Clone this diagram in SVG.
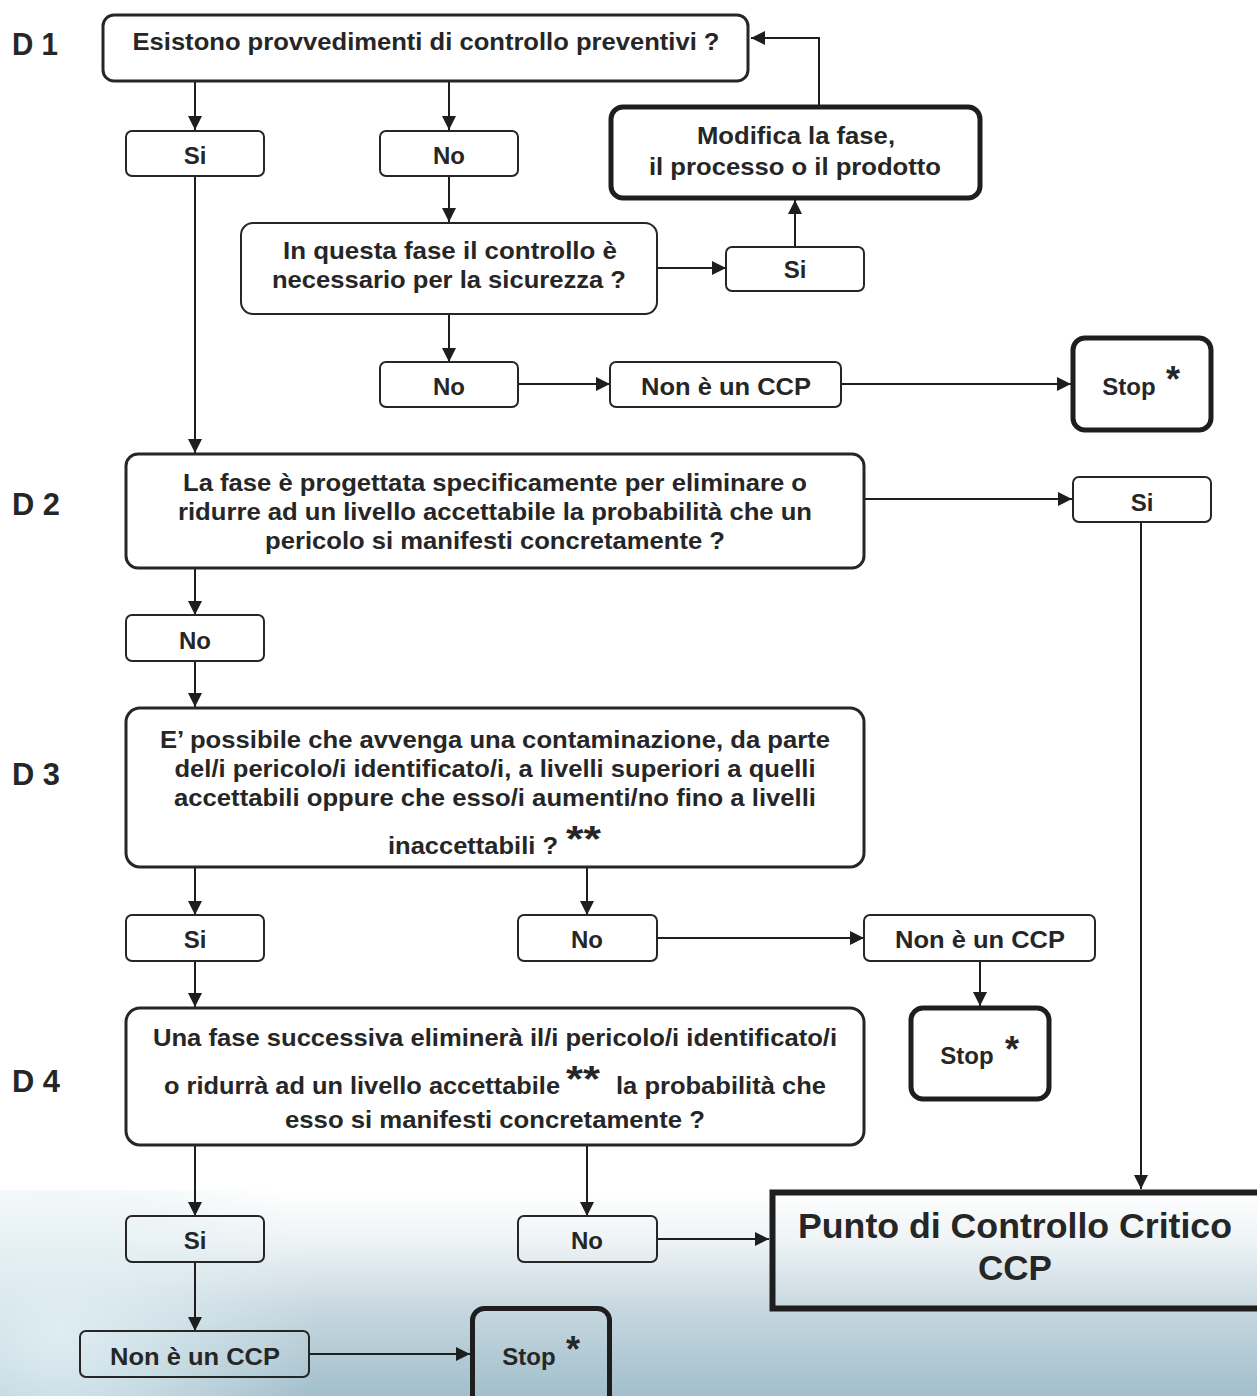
<svg xmlns="http://www.w3.org/2000/svg" width="1257" height="1396" viewBox="0 0 1257 1396">
<defs>
<linearGradient id="bg" x1="0" y1="1190" x2="0" y2="1396" gradientUnits="userSpaceOnUse">
<stop offset="0" stop-color="#ffffff"/>
<stop offset="0.25" stop-color="#eef3f5"/>
<stop offset="0.6" stop-color="#c4d6de"/>
<stop offset="1" stop-color="#a2bfcc"/>
</linearGradient>
<radialGradient id="hl" cx="60" cy="1330" r="260" gradientUnits="userSpaceOnUse">
<stop offset="0" stop-color="#e2f0f4" stop-opacity="0.9"/>
<stop offset="1" stop-color="#e2f0f4" stop-opacity="0"/>
</radialGradient>
<marker id="ah" viewBox="0 0 14 14" refX="14" refY="7" markerWidth="14" markerHeight="14" markerUnits="userSpaceOnUse" orient="auto">
<path d="M0,0 L14,7 L0,14 z" fill="#1e1e1e"/>
</marker>
<style>
.t{font-family:"Liberation Sans",Arial,Helvetica,sans-serif;font-weight:bold;fill:#262626;font-size:24px;text-anchor:middle}
.big{font-size:35px}
.d{font-family:"Liberation Sans",Arial,Helvetica,sans-serif;font-weight:bold;fill:#262626;font-size:32px}
.ast{font-family:"Liberation Sans",Arial,Helvetica,sans-serif;font-weight:bold;fill:#262626;font-size:36px}
.s{fill:none;stroke:#262626;stroke-width:2}
.m{fill:none;stroke:#262626;stroke-width:3}
.k{fill:none;stroke:#1e1e1e;stroke-width:5}
.c{fill:none;stroke:#1e1e1e;stroke-width:2;marker-end:url(#ah)}
</style>
</defs>
<rect x="0" y="0" width="1257" height="1396" fill="#ffffff"/>
<rect x="0" y="1190" width="1257" height="206" fill="url(#bg)"/>
<rect x="0" y="1190" width="1257" height="206" fill="url(#hl)"/>

<g id="labels">
<text class="d" x="12" y="55" textLength="46" lengthAdjust="spacingAndGlyphs">D 1</text>
<text class="d" x="12" y="515" textLength="48" lengthAdjust="spacingAndGlyphs">D 2</text>
<text class="d" x="12" y="785" textLength="48" lengthAdjust="spacingAndGlyphs">D 3</text>
<text class="d" x="12" y="1092" textLength="48" lengthAdjust="spacingAndGlyphs">D 4</text>
</g>

<g id="connectors">
<line class="c" x1="195" y1="82" x2="195" y2="130"/>
<line class="c" x1="449" y1="82" x2="449" y2="130"/>
<line class="c" x1="195" y1="176" x2="195" y2="453"/>
<line class="c" x1="449" y1="176" x2="449" y2="222"/>
<line class="c" x1="657" y1="268" x2="726" y2="268"/>
<line class="c" x1="795" y1="247" x2="795" y2="200"/>
<polyline class="c" points="819,105 819,38 751,38"/>
<line class="c" x1="449" y1="314" x2="449" y2="362"/>
<line class="c" x1="518" y1="384" x2="610" y2="384"/>
<line class="c" x1="841" y1="384" x2="1071" y2="384"/>
<line class="c" x1="864" y1="499" x2="1072" y2="499"/>
<line class="c" x1="1141" y1="522" x2="1141" y2="1189"/>
<line class="c" x1="195" y1="568" x2="195" y2="615"/>
<line class="c" x1="195" y1="661" x2="195" y2="707"/>
<line class="c" x1="195" y1="867" x2="195" y2="915"/>
<line class="c" x1="587" y1="867" x2="587" y2="915"/>
<line class="c" x1="657" y1="938" x2="864" y2="938"/>
<line class="c" x1="980" y1="961" x2="980" y2="1006"/>
<line class="c" x1="195" y1="961" x2="195" y2="1007"/>
<line class="c" x1="195" y1="1145" x2="195" y2="1216"/>
<line class="c" x1="587" y1="1145" x2="587" y2="1216"/>
<line class="c" x1="657" y1="1239" x2="769" y2="1239"/>
<line class="c" x1="195" y1="1262" x2="195" y2="1331"/>
<line class="c" x1="310" y1="1354" x2="470" y2="1354"/>
</g>

<g id="d1">
<rect class="m" x="103" y="15" width="645" height="66" rx="11"/>
<text class="t" x="426" y="50" textLength="587" lengthAdjust="spacingAndGlyphs">Esistono provvedimenti di controllo preventivi ?</text>
</g>
<g id="d1-si">
<rect class="s" x="126" y="131" width="138" height="45" rx="6"/>
<text class="t" x="195" y="164">Si</text>
</g>
<g id="d1-no">
<rect class="s" x="380" y="131" width="138" height="45" rx="6"/>
<text class="t" x="449" y="164">No</text>
</g>
<g id="modifica">
<rect class="k" x="611" y="107" width="369" height="91" rx="12"/>
<text class="t" x="796" y="144" textLength="198" lengthAdjust="spacingAndGlyphs">Modifica la fase,</text>
<text class="t" x="795" y="175" textLength="292" lengthAdjust="spacingAndGlyphs">il processo o il prodotto</text>
</g>
<g id="necessario">
<rect class="s" x="241" y="223" width="416" height="91" rx="12"/>
<text class="t" x="450" y="259" textLength="334" lengthAdjust="spacingAndGlyphs">In questa fase il controllo è</text>
<text class="t" x="449" y="288" textLength="354" lengthAdjust="spacingAndGlyphs">necessario per la sicurezza ?</text>
</g>
<g id="nec-si">
<rect class="s" x="726" y="247" width="138" height="44" rx="6"/>
<text class="t" x="795" y="278">Si</text>
</g>
<g id="nec-no">
<rect class="s" x="380" y="362" width="138" height="45" rx="6"/>
<text class="t" x="449" y="395">No</text>
</g>
<g id="nonccp1">
<rect class="s" x="610" y="362" width="231" height="45" rx="6"/>
<text class="t" x="726" y="395" textLength="170" lengthAdjust="spacingAndGlyphs">Non è un CCP</text>
</g>
<g id="stop1">
<rect class="k" x="1073" y="338" width="138" height="92" rx="12"/>
<text class="t" x="1129" y="395">Stop</text>
<text class="ast" x="1173" y="392" text-anchor="middle">*</text>
</g>

<g id="d2">
<rect class="m" x="126" y="454" width="738" height="114" rx="12"/>
<text class="t" x="495" y="491" textLength="624" lengthAdjust="spacingAndGlyphs">La fase è progettata specificamente per eliminare o</text>
<text class="t" x="495" y="520" textLength="634" lengthAdjust="spacingAndGlyphs">ridurre ad un livello accettabile la probabilità che un</text>
<text class="t" x="495" y="549" textLength="460" lengthAdjust="spacingAndGlyphs">pericolo si manifesti concretamente ?</text>
</g>
<g id="d2-si">
<rect class="s" x="1073" y="477" width="138" height="45" rx="6"/>
<text class="t" x="1142" y="511">Si</text>
</g>
<g id="d2-no">
<rect class="s" x="126" y="615" width="138" height="46" rx="6"/>
<text class="t" x="195" y="649">No</text>
</g>

<g id="d3">
<rect class="m" x="126" y="708" width="738" height="159" rx="14"/>
<text class="t" x="495" y="748" textLength="670" lengthAdjust="spacingAndGlyphs">E’ possibile che avvenga una contaminazione, da parte</text>
<text class="t" x="495" y="777" textLength="641" lengthAdjust="spacingAndGlyphs">del/i pericolo/i identificato/i, a livelli superiori a quelli</text>
<text class="t" x="495" y="806" textLength="642" lengthAdjust="spacingAndGlyphs">accettabili oppure che esso/i aumenti/no fino a livelli</text>
<text class="t" x="473" y="854" textLength="170" lengthAdjust="spacingAndGlyphs">inaccettabili ?</text>
<text class="ast" x="566" y="852" textLength="35" lengthAdjust="spacingAndGlyphs">**</text>
</g>
<g id="d3-si">
<rect class="s" x="126" y="915" width="138" height="46" rx="6"/>
<text class="t" x="195" y="948">Si</text>
</g>
<g id="d3-no">
<rect class="s" x="518" y="915" width="139" height="46" rx="6"/>
<text class="t" x="587" y="948">No</text>
</g>
<g id="nonccp2">
<rect class="s" x="864" y="915" width="231" height="46" rx="6"/>
<text class="t" x="980" y="948" textLength="170" lengthAdjust="spacingAndGlyphs">Non è un CCP</text>
</g>
<g id="stop2">
<rect class="k" x="911" y="1008" width="138" height="91" rx="12"/>
<text class="t" x="967" y="1064">Stop</text>
<text class="ast" x="1012" y="1062" text-anchor="middle">*</text>
</g>

<g id="d4">
<rect class="m" x="126" y="1008" width="738" height="137" rx="14"/>
<text class="t" x="495" y="1046" textLength="684" lengthAdjust="spacingAndGlyphs">Una fase successiva eliminerà il/i pericolo/i identificato/i</text>
<text class="t" x="362" y="1094" textLength="396" lengthAdjust="spacingAndGlyphs">o ridurrà ad un livello accettabile</text>
<text class="ast" x="566" y="1092" textLength="34" lengthAdjust="spacingAndGlyphs">**</text>
<text class="t" x="721" y="1094" textLength="210" lengthAdjust="spacingAndGlyphs">la probabilità che</text>
<text class="t" x="495" y="1128" textLength="420" lengthAdjust="spacingAndGlyphs">esso si manifesti concretamente ?</text>
</g>
<g id="d4-si">
<rect class="s" x="126" y="1216" width="138" height="46" rx="6"/>
<text class="t" x="195" y="1249">Si</text>
</g>
<g id="d4-no">
<rect class="s" x="518" y="1216" width="139" height="46" rx="6"/>
<text class="t" x="587" y="1249">No</text>
</g>
<g id="ccp">
<rect x="772.5" y="1192.5" width="490" height="116" fill="none" stroke="#1e1e1e" stroke-width="6"/>
<text class="t big" x="1015" y="1238" textLength="434" lengthAdjust="spacingAndGlyphs">Punto di Controllo Critico</text>
<text class="t big" x="1015" y="1280" textLength="74" lengthAdjust="spacingAndGlyphs">CCP</text>
</g>
<g id="nonccp3">
<rect class="s" x="80" y="1331" width="229" height="46" rx="6"/>
<text class="t" x="195" y="1365" textLength="170" lengthAdjust="spacingAndGlyphs">Non è un CCP</text>
</g>
<g id="stop3">
<rect class="k" x="472.5" y="1308.5" width="137" height="100" rx="12"/>
<text class="t" x="529" y="1365">Stop</text>
<text class="ast" x="573" y="1362" text-anchor="middle">*</text>
</g>
</svg>
